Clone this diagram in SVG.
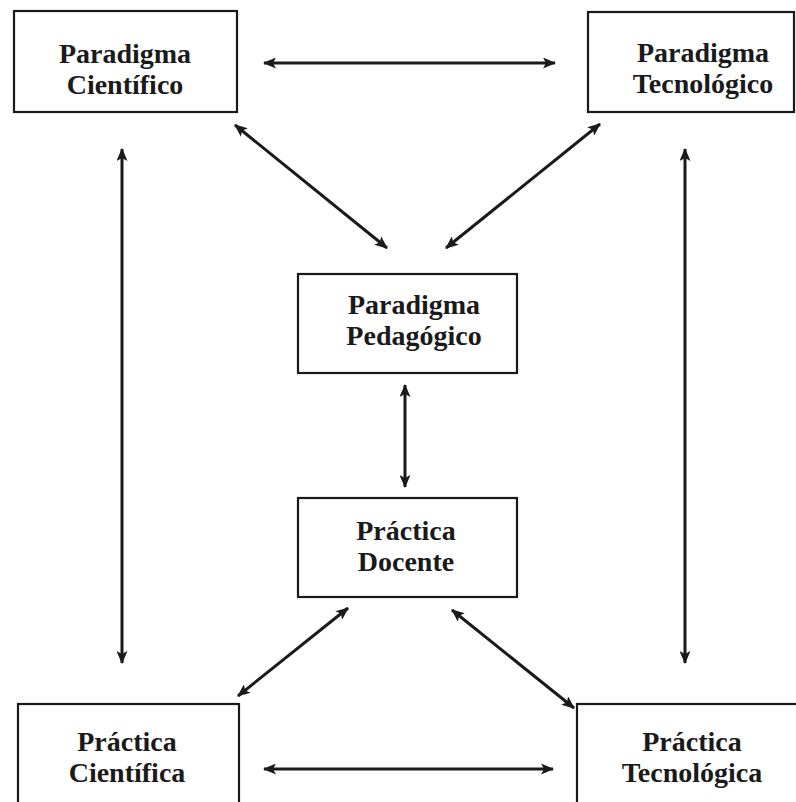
<svg xmlns="http://www.w3.org/2000/svg" width="796" height="802" viewBox="0 0 796 802">
<style>
.box{fill:#fff;stroke:#1a1a1a;stroke-width:2.2}
.lbl{font-family:"Liberation Serif","Times New Roman",serif;font-weight:bold;font-size:28px;fill:#1a1a1a;text-anchor:middle}
.con{stroke:#1a1a1a;stroke-width:3;fill:none;marker-start:url(#ah);marker-end:url(#ah)}
</style>
<defs>
<marker id="ah" viewBox="0 0 13 11" refX="12" refY="5.5" markerWidth="13" markerHeight="11" markerUnits="userSpaceOnUse" orient="auto-start-reverse">
<path d="M0,0 L13,5.5 L0,11 L3,5.5 Z" fill="#1a1a1a"/>
</marker>
</defs>
<rect width="796" height="802" fill="#fff"/>
<g id="connectors">
<line class="con" x1="264" y1="63" x2="555" y2="63"/>
<line class="con" x1="235" y1="125" x2="387" y2="248"/>
<line class="con" x1="600" y1="124" x2="446" y2="248"/>
<line class="con" x1="122" y1="149" x2="122" y2="663"/>
<line class="con" x1="685" y1="149" x2="685" y2="663"/>
<line class="con" x1="405" y1="385" x2="405" y2="487"/>
<line class="con" x1="348" y1="608" x2="238" y2="696"/>
<line class="con" x1="452" y1="610" x2="574" y2="708"/>
<line class="con" x1="264" y1="769" x2="553" y2="769"/>
</g>
<g id="paradigma-cientifico">
<rect class="box" x="14" y="11" width="223" height="101"/>
<text class="lbl" x="125" y="63">Paradigma</text>
<text class="lbl" x="125" y="94">Científico</text>
</g>
<g id="paradigma-tecnologico">
<rect class="box" x="588" y="12" width="206" height="100"/>
<text class="lbl" x="703" y="62">Paradigma</text>
<text class="lbl" x="703" y="93">Tecnológico</text>
</g>
<g id="paradigma-pedagogico">
<rect class="box" x="298" y="274" width="219" height="99"/>
<text class="lbl" x="414" y="314">Paradigma</text>
<text class="lbl" x="414" y="345">Pedagógico</text>
</g>
<g id="practica-docente">
<rect class="box" x="298" y="498" width="219" height="99"/>
<text class="lbl" x="406" y="540">Práctica</text>
<text class="lbl" x="406" y="571">Docente</text>
</g>
<g id="practica-cientifica">
<rect class="box" x="18" y="704" width="221" height="100"/>
<text class="lbl" x="127" y="751">Práctica</text>
<text class="lbl" x="127" y="782">Científica</text>
</g>
<g id="practica-tecnologica">
<rect class="box" x="577" y="704" width="221" height="100"/>
<text class="lbl" x="692" y="751">Práctica</text>
<text class="lbl" x="692" y="782">Tecnológica</text>
</g>
</svg>
